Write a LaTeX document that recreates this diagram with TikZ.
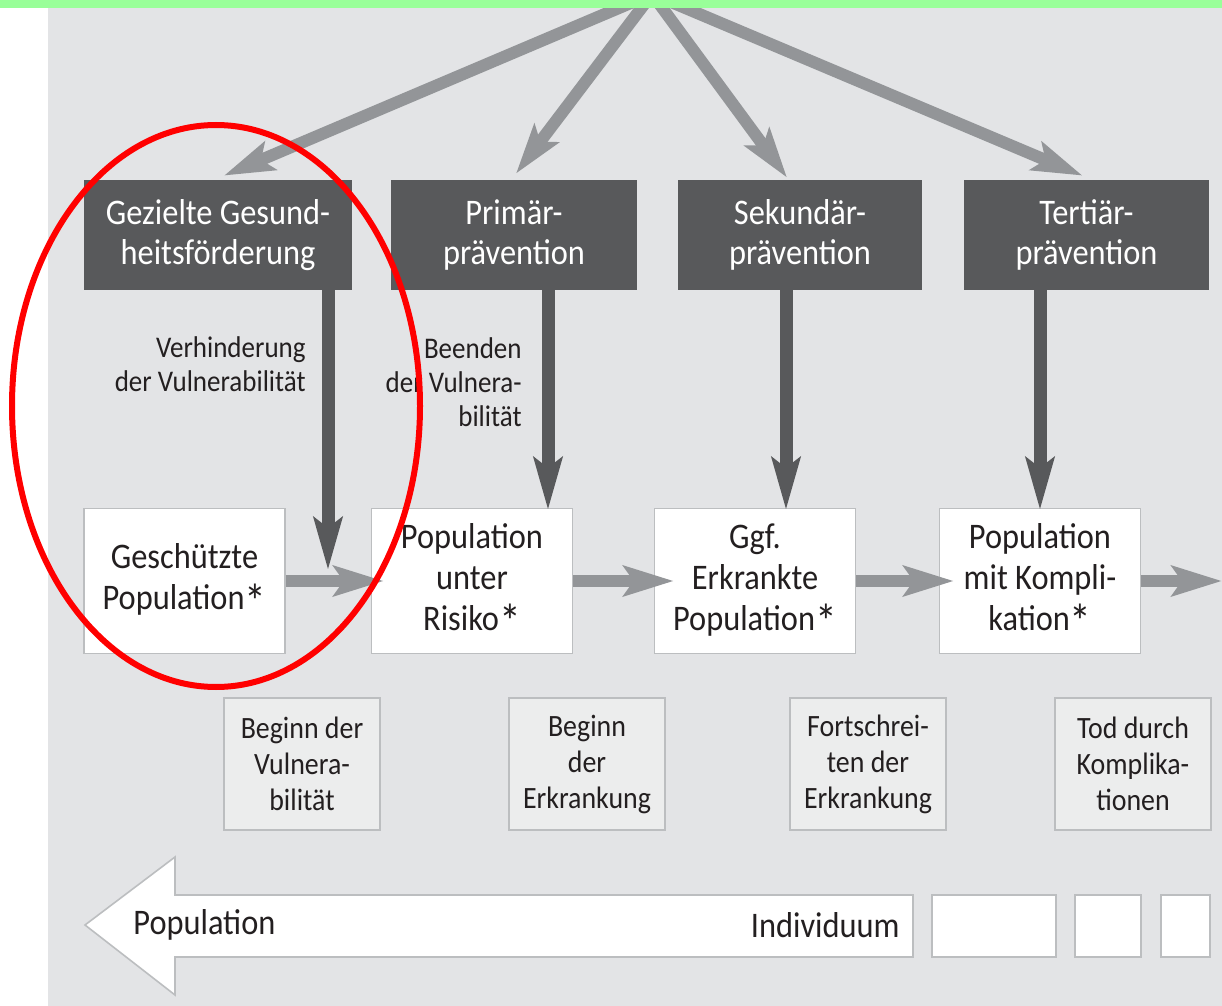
\documentclass[tikz,border=0pt]{standalone}
\usepackage{fontspec}
\setmainfont[FakeStretch=0.9]{Carlito}
\usetikzlibrary{arrows.meta}
\definecolor{bggray}{HTML}{E3E4E6}
\definecolor{darkbox}{HTML}{58595B}
\definecolor{arrgray}{HTML}{939598}
\definecolor{boxline}{HTML}{BCBEC0}
\definecolor{stagefill}{HTML}{ECEDED}
\definecolor{textblack}{HTML}{231F20}
\definecolor{markgreen}{HTML}{99FF99}
\newcommand{\popast}{\raisebox{-0.5ex}{\scalebox{1.35}{*}}}

\begin{document}
\begin{tikzpicture}
[x=0.5pt,y=-0.5pt,%
  head/.style={fill=darkbox,text=white,minimum height=55pt,inner sep=0pt,align=center,font=\fontsize{18}{20}\selectfont},%
  popbox/.style={fill=white,draw=boxline,line width=0.7pt,minimum width=100.5pt,minimum height=72.5pt,inner sep=0pt,align=center,text=textblack,font=\fontsize{18}{20.5}\selectfont},%
  stagebox/.style={fill=stagefill,draw=boxline,line width=0.8pt,minimum width=78pt,minimum height=66pt,inner sep=0pt,align=center,text=textblack,font=\fontsize{15.5}{18}\selectfont},%
  endbox/.style={fill=white,draw=boxline,line width=0.8pt,minimum height=31pt,inner sep=0pt},%
  note/.style={inner sep=0pt,align=right,text=textblack,font=\fontsize{15}{17}\selectfont},%
  lightarr/.style={-{Stealth[length=25pt,width=15pt,inset=5pt]},line width=6pt,draw=arrgray},%
  darkarr/.style={-{Stealth[length=26pt,width=14pt,inset=5pt]},line width=6.5pt,draw=darkbox},%
  bigarr/.style={fill=white,draw=boxline,line width=0.8pt,line join=miter},%
  ring/.style={draw=red,line width=3pt}]
\useasboundingbox (0,0) rectangle (1222,1006);
\fill[white] (0,0) rectangle (1222,1006);
\fill[bggray] (48,8) rectangle (1222,1006);

% top level
\node[head,minimum width=134pt] (hb1) at (218,235) {Gezielte Gesund-\\heitsförderung};
\node[head,minimum width=123pt] (hb2) at (514,235) {Primär-\\prävention};
\node[head,minimum width=122pt] (hb3) at (800,235) {Sekundär-\\prävention};
\node[head,minimum width=122.5pt] (hb4) at (1086.5,235) {Tertiär-\\prävention};

\coordinate (src) at (652,-6);
\draw[lightarr] (src) -- ([xshift=3pt,yshift=2pt]hb1.north);
\draw[lightarr] (src) -- ([xshift=1pt,yshift=3pt]hb2.north);
\draw[lightarr] (src) -- ([xshift=-6.5pt,yshift=1pt]hb3.north);
\draw[lightarr] (src) -- ([xshift=-2pt,yshift=2pt]hb4.north);

% populations
\node[popbox] (wb1) at (184.5,581) {Geschützte\\Population\popast};
\node[popbox] (wb2) at (472,581) {Population\\unter\\Risiko\popast};
\node[popbox] (wb3) at (755,581) {Ggf.\\Erkrankte\\Population\popast};
\node[popbox] (wb4) at (1040,581) {Population\\mit Kompli-\\kation\popast};

\coordinate (p1) at (328,570);
\coordinate (p2) at (548,510);
\coordinate (p3) at (786,510);
\coordinate (p4) at (1040,510);
\draw[darkarr] (hb1.south -| p1) -- (p1);
\draw[darkarr] (hb2.south -| p2) -- (p2);
\draw[darkarr] (hb3.south -| p3) -- (p3);
\draw[darkarr] (hb4.south -| p4) -- (p4);

\coordinate (out) at (1222,581);
\draw[lightarr,shorten >=-6.5pt] (wb1.east) -- (wb2.west);
\draw[lightarr,shorten >=-10pt] (wb2.east) -- (wb3.west);
\draw[lightarr,shorten >=-7.5pt] (wb3.east) -- (wb4.west);
\draw[lightarr] (wb4.east) -- (out);

\node[note,anchor=east] (nv1) at (306,364) {Verhinderung\\der Vulnerabilität};
\node[note,anchor=east] (nv2) at (522,382) {Beenden\\der Vulnera-\\bilität};

% stages
\node[stagebox] (st1) at (302,764) {Beginn der\\Vulnera-\\bilität};
\node[stagebox] (st2) at (587,764) {Beginn\\der\\Erkrankung};
\node[stagebox] (st3) at (868,764) {Fortschrei-\\ten der\\Erkrankung};
\node[stagebox] (st4) at (1133,764) {Tod durch\\Komplika-\\tionen};

% scale arrow
\draw[bigarr] (85,925) -- (175,857) -- (175,895) -- (913,895) -- (913,957)
  -- (175,957) -- (175,995) -- cycle;
\node[note,anchor=west,font=\fontsize{18}{20}\selectfont] (lpop) at (133,925) {Population};
\node[note,anchor=east,font=\fontsize{18}{20}\selectfont] (lind) at (900,925) {Individuum};
\node[endbox,minimum width=62pt] (sb1) at (994,926) {};
\node[endbox,minimum width=33pt] (sb2) at (1108,926) {};
\node[endbox,minimum width=24.5pt] (sb3) at (1185.5,926) {};

\fill[markgreen] (0,0) rectangle (1222,8);
\draw[ring] (216,406) ellipse [x radius=102pt, y radius=140.5pt];
\end{tikzpicture}
\end{document}
